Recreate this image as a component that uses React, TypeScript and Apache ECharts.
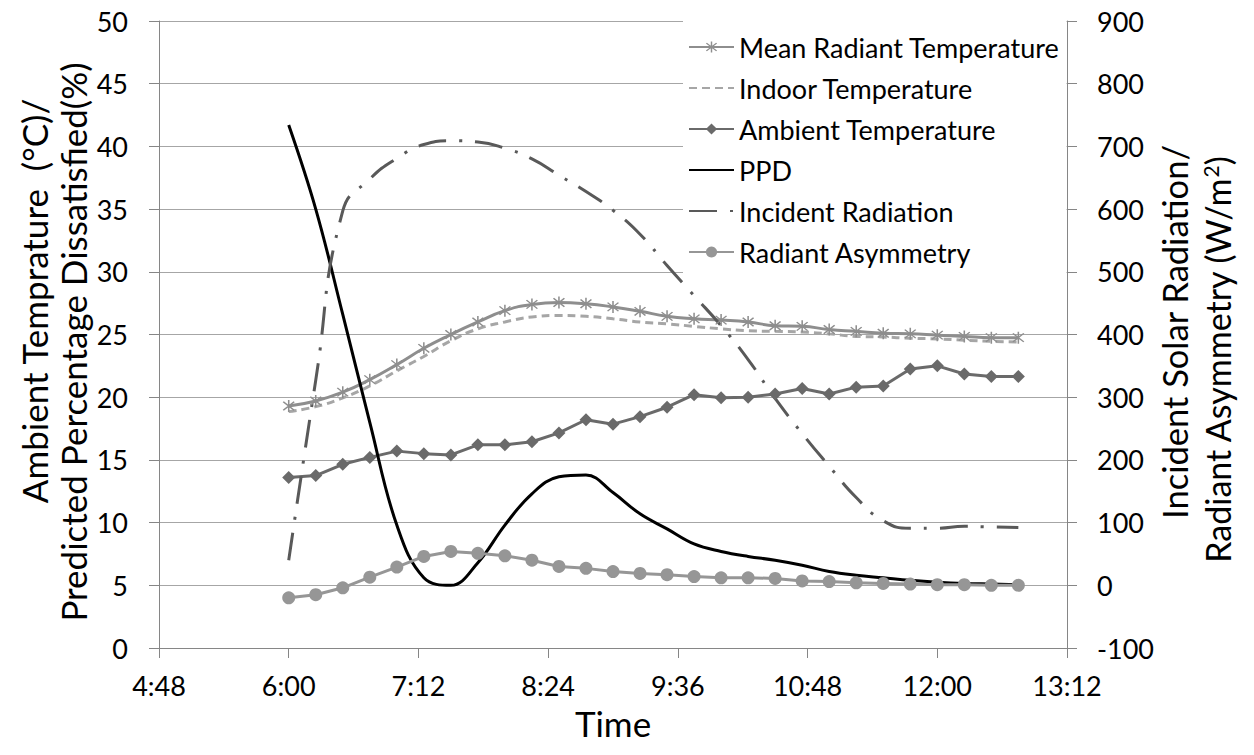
import React, { useEffect, useRef } from "react";
import * as echarts from "echarts";

const timeLabels = [
  "6:00", "6:15", "6:30", "6:45", "7:00", "7:15", "7:30", "7:45", "8:00", "8:15",
  "8:30", "8:45", "9:00", "9:15", "9:30", "9:45", "10:00", "10:15", "10:30", "10:45",
  "11:00", "11:15", "11:30", "11:45", "12:00", "12:15", "12:30", "12:45",
];

const meanRadiant = [
  19.3, 19.7, 20.4, 21.4, 22.6, 23.9, 25.0, 26.0, 26.9, 27.4,
  27.55, 27.45, 27.2, 26.85, 26.45, 26.25, 26.15, 26.0, 25.7, 25.65,
  25.4, 25.25, 25.1, 25.05, 24.95, 24.85, 24.75, 24.75,
];

const indoorTemp = [
  18.85, 19.25, 19.95, 20.9, 22.1, 23.25, 24.5, 25.45, 26.0, 26.4,
  26.52, 26.45, 26.25, 26.0, 25.85, 25.65, 25.45, 25.3, 25.25, 25.2,
  25.05, 24.85, 24.8, 24.7, 24.65, 24.55, 24.45, 24.4,
];

const ambientTemp = [
  13.6, 13.75, 14.65, 15.2, 15.7, 15.5, 15.4, 16.2, 16.2, 16.45,
  17.15, 18.2, 17.85, 18.45, 19.2, 20.2, 19.95, 20.0, 20.25, 20.7,
  20.25, 20.8, 20.9, 22.25, 22.5, 21.85, 21.65, 21.65,
];

const ppd = [
  41.7, 35.0, 26.6, 18.0, 9.8, 5.6, 5.0, 6.8, 9.8, 12.3,
  13.65, 13.8, 12.4, 10.7, 9.5, 8.3, 7.7, 7.3, 7.0, 6.6,
  6.1, 5.8, 5.6, 5.4, 5.25, 5.15, 5.1, 5.05,
];

const incidentRadiation = [
  40, 327, 597, 648, 681, 703, 709, 707, 697, 680,
  654, 628, 598, 560, 510, 462, 414, 360, 298, 242,
  190, 140, 103, 91, 91, 94, 93, 92,
];

const radiantAsymmetry = [
  -20, -15, -4, 13, 29, 46, 54, 51, 47, 40,
  30, 27, 22, 19, 17, 14, 12, 12, 11, 7,
  6, 4, 3, 2, 1, 1, 0, 0,
];

const seriesNames = [
  "Mean Radiant Temperature",
  "Indoor Temperature",
  "Ambient Temperature",
  "PPD",
  "Incident Radiation",
  "Radiant Asymmetry",
];

const leftTitleLines = ["Ambient Temprature  (°C)/", "Predicted Percentage Dissatisfied(%)"];
const rightTitleLines = ["Incident Solar Radiation/", "Radiant Asymmetry (W/m{sup|2})"];
const xTitle = "Time";

const FONT = "Lato, 'Liberation Sans', sans-serif";

const toMinutes = (s: string) => {
  const [h, m] = s.split(":").map(Number);
  return h * 60 + m;
};
const fmtTime = (v: number) => {
  const h = Math.floor(v / 60);
  const m = Math.round(v - h * 60);
  return `${h}:${m < 10 ? "0" + m : m}`;
};

const ASTERISK =
  "path://M-1,-10L1,-10L1,10L-1,10Z" +
  "M-6.36,-7.78L7.78,6.36L6.36,7.78L-7.78,-6.36Z" +
  "M6.36,-7.78L7.78,-6.36L-6.36,7.78L-7.78,6.36Z";

const INDOOR_DASH = [8, 5];
const INCIDENT_DASH = [28, 13, 3, 13];

export default function App() {
  const ref = useRef<HTMLDivElement>(null);

  useEffect(() => {
    if (!ref.current) return;
    const chart = echarts.init(ref.current, undefined, { renderer: "svg" });
    const xs = timeLabels.map(toMinutes);
    const pts = (arr: number[]) => xs.map((x, i) => [x, arr[i]]);

    const axisColor = "#868686";
    const gridColor = "#a6a6a6";
    const hiddenIcon = { color: "rgba(0,0,0,0)", borderColor: "rgba(0,0,0,0)", borderWidth: 0 };

    const titleText = (x: number, y: number, text: string, size: number, rot: number, rich?: any) => ({
      type: "text",
      x,
      y,
      rotation: rot,
      style: {
        text,
        fontSize: size,
        fontFamily: FONT,
        fill: "#000",
        align: "center",
        verticalAlign: "middle",
        ...(rich ? { rich } : {}),
      },
    });

    chart.setOption({
      animation: false,
      backgroundColor: "#ffffff",
      grid: { left: 159, right: 187, top: 21, bottom: 107, containLabel: false },
      xAxis: {
        type: "value",
        min: 288,
        max: 792,
        interval: 72,
        axisLine: { show: true, onZero: false, lineStyle: { color: axisColor, width: 1 } },
        axisTick: { show: true, length: 10, lineStyle: { color: axisColor, width: 1 } },
        splitLine: { show: false },
        axisLabel: {
          formatter: (v: number) => fmtTime(v),
          fontSize: 27,
          fontFamily: FONT,
          color: "#000",
          margin: 24,
        },
      },
      yAxis: [
        {
          type: "value",
          min: 0,
          max: 50,
          interval: 5,
          axisLine: { show: true, onZero: false, lineStyle: { color: axisColor, width: 1 } },
          axisTick: { show: true, length: 10, lineStyle: { color: axisColor, width: 1 } },
          splitLine: { show: true, lineStyle: { color: gridColor, width: 1 } },
          axisLabel: { fontSize: 27, fontFamily: FONT, color: "#000", margin: 31 },
        },
        {
          type: "value",
          position: "right",
          min: -100,
          max: 900,
          interval: 100,
          axisLine: { show: true, onZero: false, lineStyle: { color: axisColor, width: 1 } },
          axisTick: { show: true, length: 10, lineStyle: { color: axisColor, width: 1 } },
          splitLine: { show: false },
          axisLabel: { fontSize: 27, fontFamily: FONT, color: "#000", margin: 30 },
        },
      ],
      legend: {
        orient: "vertical",
        left: 683,
        top: 21,
        padding: [11, 7, 10, 5],
        itemWidth: 45,
        itemHeight: 14,
        itemGap: 11,
        backgroundColor: "#ffffff",
        selectedMode: false,
        textStyle: { fontSize: 27, fontFamily: FONT, color: "#000", lineHeight: 30 },
        data: [
          { name: seriesNames[0] },
          { name: seriesNames[1], itemStyle: hiddenIcon, lineStyle: { type: INDOOR_DASH } },
          { name: seriesNames[2] },
          { name: seriesNames[3], itemStyle: hiddenIcon },
          { name: seriesNames[4], itemStyle: hiddenIcon, lineStyle: { type: INCIDENT_DASH } },
          { name: seriesNames[5] },
        ],
      },
      graphic: [
        titleText(34, 301, leftTitleLines[0], 35, Math.PI / 2),
        titleText(73, 342, leftTitleLines[1], 35, Math.PI / 2),
        titleText(1174, 332, rightTitleLines[0], 34.5, Math.PI / 2),
        titleText(1217, 360, rightTitleLines[1], 34, Math.PI / 2, {
          sup: { fontSize: 21, fontFamily: FONT, fill: "#000", verticalAlign: "top" },
        }),
        titleText(613, 723, xTitle, 35, 0),
      ],
      series: [
        {
          name: seriesNames[0],
          type: "line",
          data: pts(meanRadiant),
          smooth: true,
          symbol: ASTERISK,
          symbolSize: 12,
          lineStyle: { color: "#8e8e8e", width: 3 },
          itemStyle: { color: "#8e8e8e" },
        },
        {
          name: seriesNames[1],
          type: "line",
          data: pts(indoorTemp),
          smooth: true,
          symbol: "none",
          lineStyle: { color: "#a6a6a6", width: 3, type: INDOOR_DASH },
          itemStyle: { color: "#a6a6a6" },
        },
        {
          name: seriesNames[2],
          type: "line",
          data: pts(ambientTemp),
          symbol: "diamond",
          symbolSize: 13,
          lineStyle: { color: "#6a6a6a", width: 3 },
          itemStyle: { color: "#6a6a6a" },
        },
        {
          name: seriesNames[3],
          type: "line",
          data: pts(ppd),
          smooth: 0.4,
          symbol: "none",
          lineStyle: { color: "#000000", width: 3 },
          itemStyle: { color: "#000000" },
        },
        {
          name: seriesNames[4],
          type: "line",
          yAxisIndex: 1,
          data: pts(incidentRadiation),
          smooth: true,
          symbol: "none",
          lineStyle: { color: "#595959", width: 3, type: INCIDENT_DASH },
          itemStyle: { color: "#595959" },
        },
        {
          name: seriesNames[5],
          type: "line",
          yAxisIndex: 1,
          data: pts(radiantAsymmetry),
          symbol: "circle",
          symbolSize: 13,
          lineStyle: { color: "#969696", width: 3 },
          itemStyle: { color: "#969696" },
        },
      ],
    });

    return () => chart.dispose();
  }, []);

  return (
    <div
      ref={ref}
      style={{ position: "fixed", left: 0, top: 0, width: 1254, height: 755, background: "#fff" }}
    />
  );
}
